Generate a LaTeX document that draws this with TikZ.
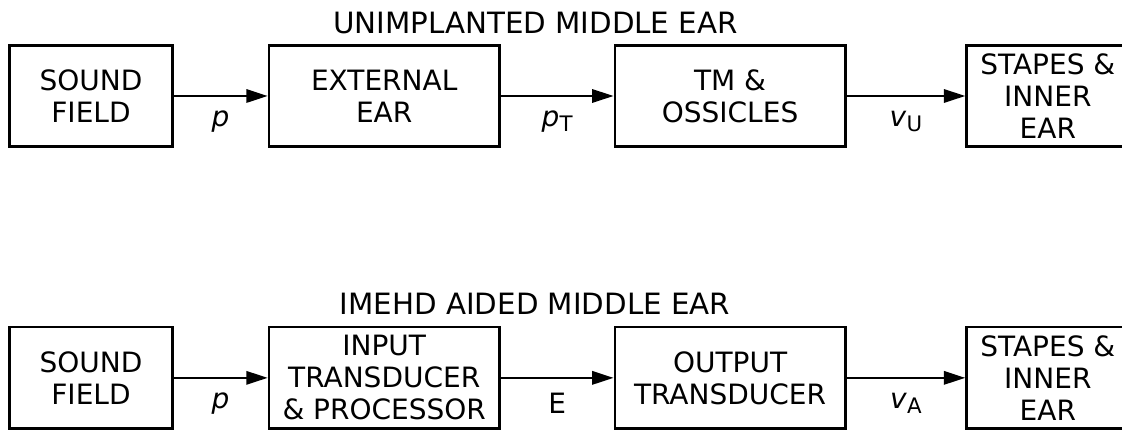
\documentclass[tikz,border=0pt]{standalone}
\usepackage{fontspec}
\setmainfont{DejaVu Sans}
\usetikzlibrary{arrows.meta, positioning}
\newcommand{\lsub}[1]{\raisebox{-4pt}{\fontsize{16}{16}\selectfont #1}}

\begin{document}
\begin{tikzpicture}[
    x=1pt, y=1pt,
    box/.style={
        rectangle,
        draw,
        line width=1.8pt,
        minimum width=173pt,
        minimum height=76pt,
        inner sep=0pt,
        align=center,
        font=\fontsize{21}{24}\selectfont
    },
    endbox/.style={box, minimum width=122pt},
    arr/.style={-{Triangle[length=16pt, width=10pt]}, line width=1.6pt},
    lab/.style={font=\fontsize{21}{24}\selectfont, yshift=-19pt, inner sep=0pt},
    title/.style={font=\fontsize{22}{24}\selectfont, anchor=base, inner sep=0pt}
]
\useasboundingbox (0,0) rectangle (841.5,323.25);

% unimplanted middle ear
\node[title] (t1) at (401.6,298.3) {UNIMPLANTED MIDDLE EAR};
\node[endbox] (sf1) at (68.25,251.25) {SOUND\\FIELD};
\node[box, right=70.6pt of sf1] (ext) {EXTERNAL\\EAR};
\node[box, right=84.6pt of ext] (tm) {TM \&\\OSSICLES};
\node[endbox, right=89pt of tm] (st1) {STAPES \&\\INNER\\EAR};

\draw[arr] (sf1) -- node[lab]{\textit{p}} (ext);
\draw[arr] (ext) -- node[lab]{\textit{p}\lsub{T}} (tm);
\draw[arr] (tm)  -- node[lab]{\textit{v}\lsub{U}} (st1);

% aided middle ear
\node[title] (t2) at (401.25,87) {IMEHD AIDED MIDDLE EAR};
\node[endbox, below=133.6pt of sf1] (sf2) {SOUND\\FIELD};
\node[box, below=133.6pt of ext] (inp) {INPUT\\TRANSDUCER\\\& PROCESSOR};
\node[box, below=133.6pt of tm] (out) {OUTPUT\\TRANSDUCER};
\node[endbox, below=133.6pt of st1] (st2) {STAPES \&\\INNER\\EAR};

\draw[arr] (sf2) -- node[lab]{\textit{p}} (inp);
\draw[arr] (inp) -- node[lab]{E} (out);
\draw[arr] (out) -- node[lab]{\textit{v}\lsub{A}} (st2);

\end{tikzpicture}
\end{document}
